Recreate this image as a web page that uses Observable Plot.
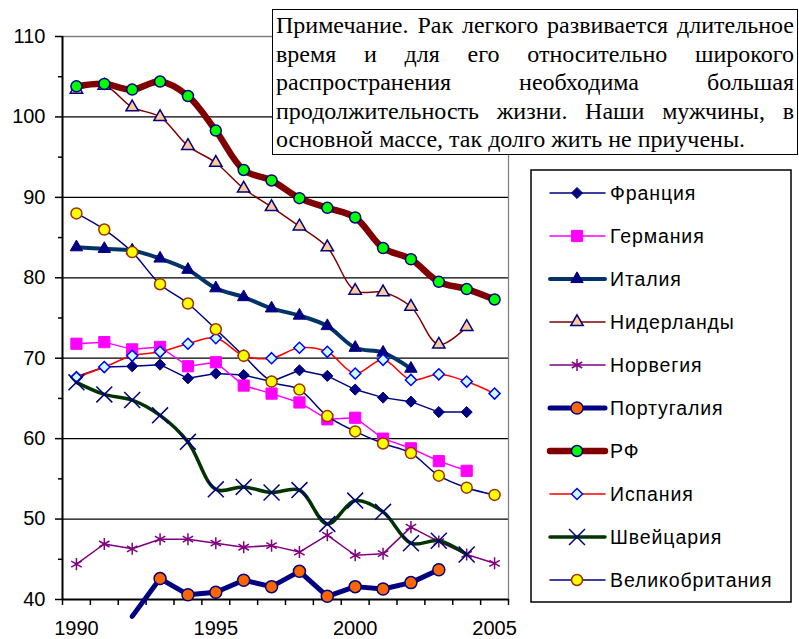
<!DOCTYPE html>
<html><head><meta charset="utf-8">
<script src="https://cdn.jsdelivr.net/npm/d3@7"></script>
<script src="https://cdn.jsdelivr.net/npm/@observablehq/plot@0.6"></script>
<style>
html,body{margin:0;padding:0;background:#fff;}
#wrap{position:relative;width:799px;height:639px;overflow:hidden;}
#note{position:absolute;left:272px;top:9px;width:518px;height:143px;border:1.5px solid #000;background:#fff;padding:1px 3px 0 3px;font-family:"Liberation Serif","Times New Roman",serif;font-size:24px;line-height:28.5px;color:#000;box-sizing:content-box;}
#note .ln{display:flex;justify-content:space-between;white-space:nowrap;}
#note .ln.last{justify-content:flex-start;}
#legend{position:absolute;left:0;top:0;pointer-events:none;}
</style></head><body>
<div id="wrap"><div id="chart"></div><div id="note"></div><svg id="legend" width="799" height="639"></svg></div>
<script>
// ---- data ----
const years = [1990,1991,1992,1993,1994,1995,1996,1997,1998,1999,2000,2001,2002,2003,2004,2005];
const xTickLabels = [1990,1995,2000,2005];
const yTickLabels = [40,50,60,70,80,90,100,110];
const yMinorTicks = [45,55,65,75,85,95,105];
const names = ["Франция","Германия","Италия","Нидерланды","Норвегия","Португалия","РФ","Испания","Швейцария","Великобритания"];
const france      = [67.7,68.9,69.0,69.2,67.5,68.1,67.9,67.1,68.5,67.8,66.1,65.1,64.6,63.3,63.3,null];
const germany     = [71.8,72.0,71.1,71.4,69.0,69.5,66.6,65.6,64.5,62.4,62.6,60.0,58.8,57.2,56.0,null];
const italy       = [83.8,83.6,83.4,82.4,81.0,78.7,77.6,76.2,75.3,74.0,71.3,70.7,68.7,null,null,null];
const netherlands = [103.4,103.9,101.2,100.0,96.4,94.3,91.1,88.8,86.4,83.8,78.4,78.2,76.4,71.7,73.9,null];
const norway      = [44.4,46.9,46.3,47.5,47.5,47.0,46.5,46.7,45.9,48.0,45.5,45.7,49.0,47.2,45.6,44.5];
const portugal    = [null,null,37.9,42.6,40.6,40.9,42.4,41.6,43.5,40.4,41.6,41.3,42.1,43.7,null,null];
const russia      = [103.8,104.1,103.4,104.4,102.6,98.3,93.4,92.1,89.9,88.7,87.5,83.7,82.3,79.5,78.6,77.3];
const spain       = [67.6,68.9,70.3,70.8,71.8,72.5,70.3,70.0,71.3,70.8,68.1,69.8,67.3,68.0,67.1,65.6];
const switzerland = [67.0,65.5,64.8,62.9,59.6,53.7,54.0,53.3,53.6,49.4,52.3,50.9,47.0,47.3,45.6,null];
const uk          = [88.0,86.0,83.2,79.2,76.8,73.6,70.3,67.1,66.1,62.8,60.9,59.4,58.2,55.4,53.9,53.0];
const seriesValues = [france,germany,italy,netherlands,norway,portugal,russia,spain,switzerland,uk];
const noteLines = [
  "Примечание. Рак легкого развивается длительное",
  "время и для его относительно широкого",
  "распространения необходима большая",
  "продолжительность жизни. Наши мужчины, в",
  "основной массе, так долго жить не приучены."
];

// ---- styles ----
const styles = [
  {line:"#000080", lw:1.5, smooth:false, sym:"diamond2", r:5,   fill:"#000080", stroke:"#000080", sw:1},
  {line:"#FF00FF", lw:1.5, smooth:false, sym:"square",   r:6.3, fill:"#FF00FF", stroke:"#FF00FF", sw:1},
  {line:"#003366", lw:4,   smooth:true,  sym:"triangle", r:4.6, fill:"#000080", stroke:"#000080", sw:1},
  {line:"#800000", lw:1.5, smooth:true,  sym:"triangle", r:4.6, fill:"#FFCC99", stroke:"#000080", sw:1.5},
  {line:"#800080", lw:1.5, smooth:false, sym:"asterisk", r:5.7, fill:"none",    stroke:"#800080", sw:1.5},
  {line:"#000080", lw:5,   smooth:false, sym:"circle",   r:6,   fill:"#FF6600", stroke:"#000080", sw:1.5},
  {line:"#800000", lw:6.5, smooth:true,  sym:"circle",   r:5.5, fill:"#00FF00", stroke:"#000080", sw:1.5},
  {line:"#FF0000", lw:1.5, smooth:true,  sym:"diamond2", r:5,   fill:"#CCFFFF", stroke:"#0000FF", sw:1.5},
  {line:"#003300", lw:3.5, smooth:true,  sym:"times",    r:7.3, fill:"none",    stroke:"#000080", sw:1.5},
  {line:"#000080", lw:1.5, smooth:true,  sym:"circle",   r:5.5, fill:"#FFFF00", stroke:"#993300", sw:1.5}
];

const bounds = years.map(y => y - 0.5).concat([years[years.length-1] + 0.5]);
const FONT = "'Liberation Sans', Arial, sans-serif";

const marks = [
  Plot.ruleY(yTickLabels.filter(v => v > 40 && v < 110), {stroke:"#000", strokeWidth:1.3}),
  Plot.ruleY([110], {stroke:"#808080", strokeWidth:1.3}),
  Plot.ruleX([bounds[bounds.length-1]], {stroke:"#808080", strokeWidth:1.3}),
  Plot.axisY({ticks:yTickLabels, tickSize:7, tickPadding:10, fontSize:20, label:null, tickFormat:d => String(d), strokeWidth:1.5}),
  Plot.axisY({ticks:yMinorTicks, tickSize:4, tickFormat:() => "", label:null, strokeWidth:1.5}),
  Plot.axisX({ticks:bounds, tickSize:6, tickFormat:() => "", label:null, strokeWidth:1.5}),
  Plot.axisX({ticks:xTickLabels, tickSize:0, tickPadding:21, fontSize:20, label:null, tickFormat:d => String(d)}),
  Plot.ruleX([bounds[0]], {stroke:"#000", strokeWidth:2}),
  Plot.ruleY([40], {stroke:"#000", strokeWidth:2})
];

seriesValues.forEach((vals, i) => {
  const s = styles[i];
  const data = years.map((yr, j) => ({year: yr, value: vals[j]})).filter(d => d.value != null);
  marks.push(Plot.line(data, {x:"year", y:"value", stroke:s.line, strokeWidth:s.lw, curve: s.smooth ? "catmull-rom" : "linear", strokeLinejoin:"round", strokeLinecap:"round"}));
  marks.push(Plot.dot(data.filter(d => d.value >= 40), {x:"year", y:"value", symbol:s.sym, r:s.r, fill:s.fill, stroke:s.stroke, strokeWidth:s.sw}));
});

const chart = Plot.plot({
  width: 799, height: 639,
  marginLeft: 62, marginRight: 291, marginTop: 36, marginBottom: 40,
  style: {fontFamily: FONT, background: "#fff", color: "#000"},
  x: {type: "linear", domain: [bounds[0], bounds[bounds.length-1]]},
  y: {domain: [40, 110]},
  marks
});
document.getElementById("chart").appendChild(chart);

// ---- note ----
const note = document.getElementById("note");
noteLines.forEach((t, i) => {
  const div = document.createElement("div");
  div.className = "ln" + (i === noteLines.length - 1 ? " last" : "");
  const words = t.split(" ");
  words.forEach((w, k) => {
    const sp = document.createElement("span");
    sp.textContent = (i === noteLines.length - 1 && k < words.length - 1) ? w + "\u00a0" : w;
    div.appendChild(sp);
  });
  note.appendChild(div);
});

// ---- legend ----
const symMap = {circle:d3.symbolCircle, square:d3.symbolSquare, diamond2:d3.symbolDiamond2, triangle:d3.symbolTriangle, times:d3.symbolTimes, asterisk:d3.symbolAsterisk};
const lg = d3.select("#legend");
lg.append("rect").attr("x",531).attr("y",170).attr("width",260).attr("height",432).attr("fill","#fff").attr("stroke","#000").attr("stroke-width",1.5);
names.forEach((n, i) => {
  const s = styles[i];
  const y = 193 + 43 * i;
  const g = lg.append("g");
  g.append("line").attr("x1",550).attr("x2",605).attr("y1",y).attr("y2",y).attr("stroke",s.line).attr("stroke-width",s.lw).attr("stroke-linecap","round");
  g.append("path").attr("transform",`translate(577,${y})`).attr("d", d3.symbol(symMap[s.sym], Math.PI*s.r*s.r)()).attr("fill",s.fill).attr("stroke",s.stroke).attr("stroke-width",s.sw);
  g.append("text").attr("x",610).attr("y",y).attr("dy","0.35em").attr("font-family",FONT).attr("font-size",19.5).attr("letter-spacing","0.9px").attr("fill","#000").text(n);
});
</script>
</body></html>
